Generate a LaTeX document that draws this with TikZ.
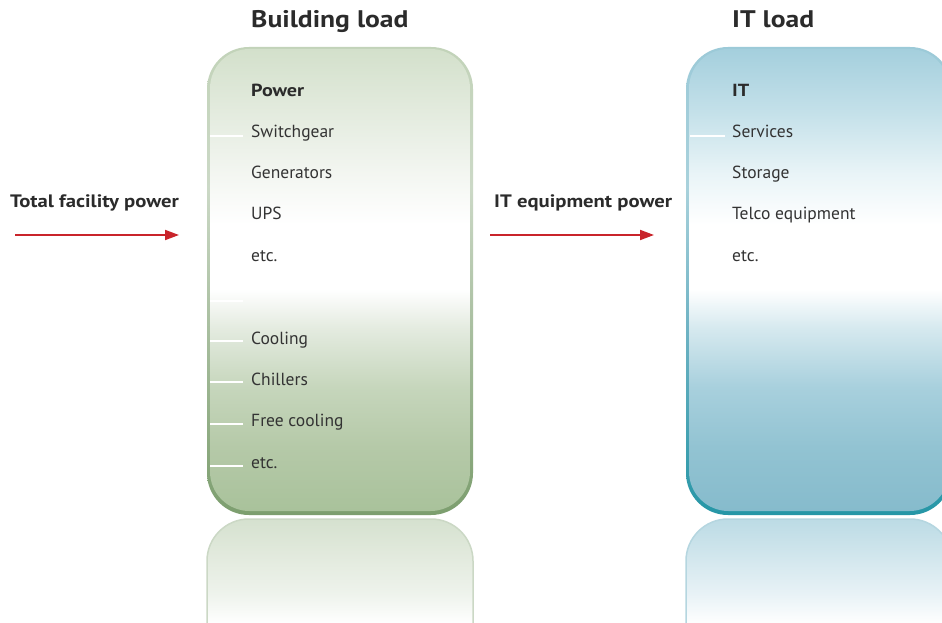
\documentclass[tikz,border=0pt]{standalone}
\usepackage{fontspec}
\setmainfont{PT Sans}
\newfontfamily\widebold[FakeStretch=1.15]{PT Sans Bold}
\usetikzlibrary{arrows.meta}
\definecolor{txt}{HTML}{333333}
\definecolor{ttl}{HTML}{2B2B2B}
\definecolor{arrowred}{HTML}{C9242B}
% green interior
\definecolor{g1}{HTML}{D3E0CB}
\definecolor{g2}{HTML}{E3EBDE}
\definecolor{g3}{HTML}{F3F6F1}
\definecolor{g4}{HTML}{E4EBE0}
\definecolor{g5}{HTML}{C6D6BC}
\definecolor{g6}{HTML}{B5C9A8}
\definecolor{g7}{HTML}{A9C29B}
\definecolor{gbt}{HTML}{C2D3B9}
\definecolor{gbm}{HTML}{A9BFA0}
\definecolor{gbb}{HTML}{7C9E6E}
\definecolor{gr1}{HTML}{D5E1CF}
\definecolor{gr2}{HTML}{E1E9DC}
\definecolor{gr3}{HTML}{EEF3EC}
\definecolor{grb}{HTML}{CBD8C5}
% blue interior
\definecolor{b1}{HTML}{A4CFDD}
\definecolor{b2}{HTML}{C3E0E9}
\definecolor{b3}{HTML}{E9F4F7}
\definecolor{b4}{HTML}{D6E9EF}
\definecolor{b5}{HTML}{A8D0DD}
\definecolor{b6}{HTML}{92C3D2}
\definecolor{b7}{HTML}{86BBCC}
\definecolor{bbt}{HTML}{9CCAD8}
\definecolor{bbm}{HTML}{6FB3C4}
\definecolor{bbb}{HTML}{2596A6}
\definecolor{br1}{HTML}{BCDBE5}
\definecolor{br2}{HTML}{CFE5EC}
\definecolor{br3}{HTML}{E8F2F6}
\definecolor{brb}{HTML}{B5D6E0}
\pgfdeclareverticalshading{greenin}{100bp}{color(0bp)=(g7); color(25bp)=(g7); color(31.9bp)=(g6); color(38.4bp)=(g5); color(44.8bp)=(g4); color(49bp)=(white); color(56bp)=(white); color(61.5bp)=(g3); color(68.3bp)=(g2); color(75bp)=(g1); color(100bp)=(g1)}
\pgfdeclareverticalshading{greenborder}{100bp}{color(0bp)=(gbb); color(25bp)=(gbb); color(45bp)=(gbm); color(60bp)=(gbm!60!white); color(75bp)=(gbt); color(100bp)=(gbt)}
\pgfdeclareverticalshading{greenrefl}{100bp}{color(0bp)=(white); color(25bp)=(white); color(40bp)=(white); color(50bp)=(gr3); color(64bp)=(gr2); color(75bp)=(gr1); color(100bp)=(gr1)}
\pgfdeclareverticalshading{bluein}{100bp}{color(0bp)=(b7); color(25bp)=(b7); color(31.9bp)=(b6); color(38.4bp)=(b5); color(44.8bp)=(b4); color(49bp)=(white); color(56bp)=(white); color(61.5bp)=(b3); color(68.3bp)=(b2); color(75bp)=(b1); color(100bp)=(b1)}
\pgfdeclareverticalshading{blueborder}{100bp}{color(0bp)=(bbb); color(25bp)=(bbb); color(45bp)=(bbm); color(60bp)=(bbm!60!white); color(75bp)=(bbt); color(100bp)=(bbt)}
\pgfdeclareverticalshading{bluerefl}{100bp}{color(0bp)=(white); color(25bp)=(white); color(40bp)=(white); color(50bp)=(br3); color(64bp)=(br2); color(75bp)=(br1); color(100bp)=(br1)}
\begin{document}
\begin{tikzpicture}[x=1pt,y=-1pt,
  boxshape/.style={shade, inner sep=0pt, outer sep=0pt, rounded corners=#1},
  item/.style={anchor=base west, font=\fontsize{17.5}{20}\selectfont, text=txt, inner sep=0pt},
  itemhead/.style={item, font=\fontsize{17.5}{20}\selectfont\widebold, text=ttl},
  titletext/.style={anchor=base west, font=\fontsize{24}{28}\selectfont\widebold, text=ttl, inner sep=0pt},
  flowlabel/.style={anchor=base west, font=\fontsize{18}{21}\selectfont\widebold, text=ttl, inner sep=0pt},
  tick/.style={draw=white, line width=2.2pt},
  flow/.style={draw=arrowred, line width=1.8pt, -{Triangle[length=14pt,width=10pt]}}]
\fill[white] (0,0) rectangle (942,623);
\useasboundingbox (0,0) rectangle (942,623);
\clip (0,0) rectangle (942,623);

% reflections
\node[boxshape=42pt, shading=greenrefl, draw=grb, line width=1.5pt, minimum width=266pt, minimum height=150pt] (brefl) at (340,594) {};
\node[boxshape=42pt, shading=bluerefl, draw=brb, line width=1.5pt, minimum width=266pt, minimum height=150pt] (irefl) at (819,594) {};

% building load box
\node[boxshape=42pt, shading=greenborder, minimum width=266pt, minimum height=468pt] (bframe) at (340,281) {};
\node[boxshape=39.5pt, shading=greenin, minimum width=260pt, minimum height=462pt] (bbox) at (340,280) {};

% IT load box
\node[boxshape=42pt, shading=blueborder, minimum width=266pt, minimum height=468pt] (iframe) at (819,281) {};
\node[boxshape=39.5pt, shading=bluein, minimum width=260pt, minimum height=462pt] (ibox) at (819,280) {};

% titles
\node[titletext] (tb) at (251,27.5) {Building load};
\node[titletext] (ti) at (732,27.5) {IT load};

% building items
\coordinate (bt1a) at (210,136); \coordinate (bt1b) at (243,136);
\coordinate (bt2a) at (210,301); \coordinate (bt2b) at (243,301);
\coordinate (bt3a) at (210,341); \coordinate (bt3b) at (243,341);
\coordinate (bt4a) at (210,382); \coordinate (bt4b) at (243,382);
\coordinate (bt5a) at (210,424); \coordinate (bt5b) at (243,424);
\coordinate (bt6a) at (210,466); \coordinate (bt6b) at (243,466);
\foreach \i in {1,...,6} {\draw[tick] (bt\i a) -- (bt\i b);}
\node[itemhead] (bp0) at (251,97) {Power};
\node[item] (bp1) at (251,138) {Switchgear};
\node[item] (bp2) at (251,178) {Generators};
\node[item] (bp3) at (251,219) {UPS};
\node[item] (bp4) at (251,261) {etc.};
\node[item] (bc1) at (251,344) {Cooling};
\node[item] (bc2) at (251,385) {Chillers};
\node[item] (bc3) at (251,426) {Free cooling};
\node[item] (bc4) at (251,468) {etc.};

% IT items
\coordinate (it1a) at (690,136); \coordinate (it1b) at (725,136);
\draw[tick] (it1a) -- (it1b);
\node[itemhead] (ip0) at (732,97) {IT};
\node[item] (ip1) at (732,138) {Services};
\node[item] (ip2) at (732,178) {Storage};
\node[item] (ip3) at (732,219) {Telco equipment};
\node[item] (ip4) at (732,261) {etc.};

% flows
\node[flowlabel] (lf1) at (10,207) {Total facility power};
\node[flowlabel] (lf2) at (494,207) {IT equipment power};
\coordinate (a1s) at (15,235); \coordinate (a1e) at (179,235);
\coordinate (a2s) at (490,235); \coordinate (a2e) at (654,235);
\draw[flow] (a1s) -- (a1e);
\draw[flow] (a2s) -- (a2e);
\end{tikzpicture}
\end{document}
